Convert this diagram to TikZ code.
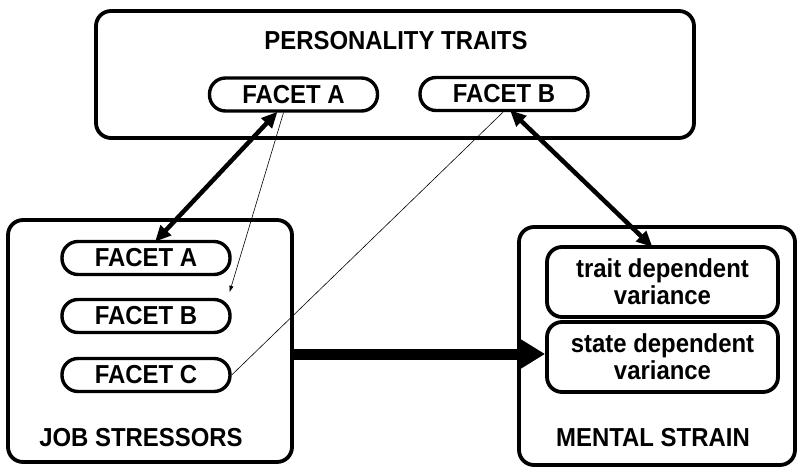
\documentclass[tikz,border=0pt]{standalone}
\usepackage{fontspec}
\setmainfont[FakeStretch=0.92]{Liberation Sans}
\usetikzlibrary{arrows.meta}
\begin{document}
\begin{tikzpicture}[x=1pt,y=-1pt,
  bigbox/.style={draw, line width=3.8pt, rounded corners=15pt, minimum width=#1, inner sep=0pt},
  pill/.style={draw, line width=3.4pt, rounded corners=16pt, minimum width=168pt, minimum height=33pt, inner sep=0pt, font=\fontsize{26}{28}\selectfont\bfseries},
  varbox/.style={draw, line width=3.8pt, rounded corners=15pt, minimum width=231pt, minimum height=70pt, inner sep=0pt, align=center, font=\fontsize{26}{27}\selectfont\bfseries},
  lbl/.style={font=\fontsize{26}{28}\selectfont\bfseries, inner sep=0pt},
  dblarrow/.style={line width=4.5pt, {Triangle[length=16pt,width=14pt]}-{Triangle[length=16pt,width=14pt]}},
  thinarrow/.style={line width=0.6pt, -{Triangle[length=6pt,width=4pt]}},
  thinline/.style={line width=0.6pt},
  fatarrow/.style={line width=11pt, -{Triangle[length=28pt,width=32pt]}}
]
\useasboundingbox (0,0) rectangle (799,470);

% top box
\node[bigbox=598pt, minimum height=127pt] (top) at (395,74.5) {};
\node[lbl] (ttl) at (396,41) {PERSONALITY TRAITS};
\node[pill] (tA) at (293.5,94.5) {FACET A};
\node[pill] (tB) at (504,94) {FACET B};

% job stressors
\node[bigbox=284pt, minimum height=242pt] (job) at (150,341) {};
\node[pill] (jA) at (146,258) {FACET A};
\node[pill] (jB) at (146,316) {FACET B};
\node[pill] (jC) at (146,375) {FACET C};
\node[lbl] (jlbl) at (141,438) {JOB STRESSORS};

% mental strain
\node[bigbox=276pt, minimum height=238pt] (ms) at (657,346) {};
\node[varbox] (trait) at (662.5,282) {trait dependent\\variance};
\node[varbox] (state) at (662.5,357) {state dependent\\variance};
\node[lbl] (mlbl) at (653,438) {MENTAL STRAIN};

% connectors
\draw[dblarrow] ([xshift=-16pt,yshift=1pt]tA.south) -- ([xshift=9pt,yshift=-2pt]jA.north);
\draw[dblarrow] ([xshift=6pt,yshift=2pt]tB.south) -- ([xshift=-10pt,yshift=-2pt]trait.north);
\draw[thinarrow] ([xshift=-10pt]tA.south) -- ([xshift=-2pt,yshift=6pt]jB.north east);
\draw[thinline] (jC.east) -- ([xshift=-1pt]tB.south);
\draw[fatarrow] (job.east |- 0,354) -- (state.west |- 0,354);
\end{tikzpicture}
\end{document}
